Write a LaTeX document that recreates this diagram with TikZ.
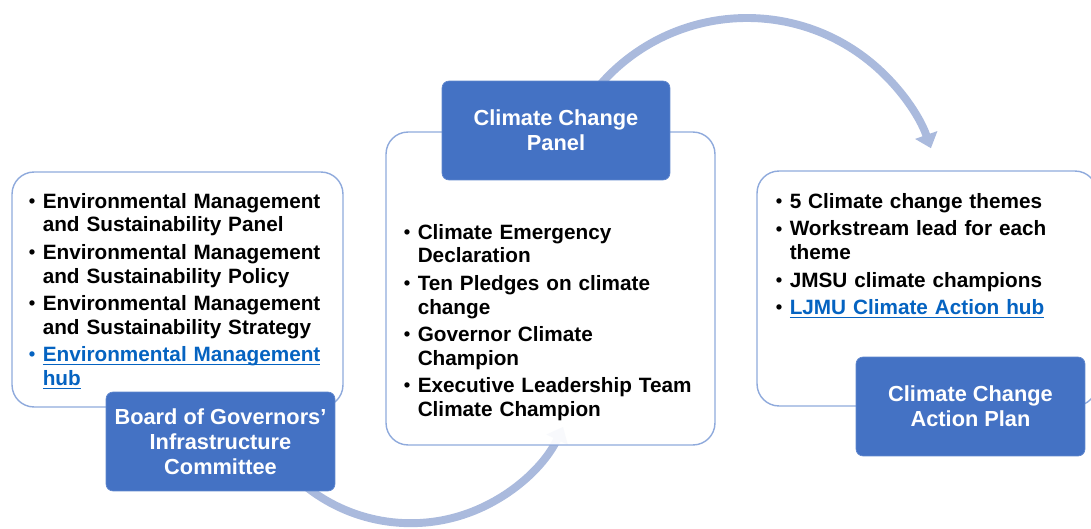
\documentclass[tikz,border=0pt]{standalone}
\usepackage{fontspec}
\setmainfont{Liberation Sans}
\usepackage{xcolor}
\usepackage{tikz}
\usetikzlibrary{arrows.meta}

\definecolor{boxblue}{HTML}{4472C4}
\definecolor{edgeblue}{HTML}{8FAADC}
\definecolor{flowblue}{HTML}{AABADD}
\definecolor{linkblue}{HTML}{0563C1}

\newsavebox\lnkbox
\newcommand{\lnk}[1]{{\color{linkblue}\sbox\lnkbox{#1}\rlap{\rule[-2pt]{\wd\lnkbox}{0.7pt}}\usebox\lnkbox}}
\newcommand{\bitem}[2][black]{\hangindent=8.2pt\hangafter=1\noindent
  \makebox[8.2pt][l]{\hspace{0.3pt}\raisebox{0.5pt}{\fontsize{10.5}{10.5}\selectfont\textcolor{#1}{\textbullet}}}#2\par}

\tikzset{
  listbox/.style={draw=edgeblue, line width=0.8pt, fill=white, fill opacity=0.92, rounded corners=0.44cm},
  headbox/.style={fill=boxblue, draw=boxblue!85!white, rounded corners=0.14cm, text=white, align=center,
    font=\fontsize{12.4}{14.3}\selectfont\bfseries},
  bullets/.style={inner sep=0pt, text width=6.2cm, align=left, font=\fontsize{11.8}{13.4}\selectfont\bfseries,
    execute at begin node=\setlength{\parskip}{2.3pt}},
  flow/.style={flowblue, line width=4.5pt, -{Triangle[width=13pt,length=8pt]}}
}

\begin{document}
\begin{tikzpicture}[x=0.02cm, y=0.02cm]
	\useasboundingbox (0,0) rectangle (1091,528);
	\clip (0,0) rectangle (1091,528);
	
	% bent arrows, behind the boxes
	\coordinate (lowc) at (410.8,173.4);
	\coordinate (topc) at (747,315);
	\draw[flow] ([shift={(-130:168.6)}]lowc) arc[start angle=-130, end angle=-25.4, radius=168.6];
	\draw[flow] ([shift={(140:195)}]topc) arc[start angle=140, end angle=19.4, radius=195];
	
	\node[listbox, minimum width=6.62cm, minimum height=4.7cm] (envbox) at (177.5,238.5) {};
	\node[listbox, minimum width=6.58cm, minimum height=6.26cm] (pledgebox) at (550.5,239.5) {};
	\node[listbox, minimum width=6.8cm, minimum height=4.7cm] (themebox) at (927,239.5) {};
	
	\node[bullets, anchor=north west] (envlist) at (28,335) {%
		\bitem{Environmental Management\newline and Sustainability Panel}
		\bitem{Environmental Management\newline and Sustainability Policy}
		\bitem{Environmental Management\newline and Sustainability Strategy}
		\bitem[linkblue]{\lnk{Environmental Management}\newline\lnk{hub}}};
	\node[bullets, anchor=north west] (pledgelist) at (403,304) {%
		\bitem{Climate Emergency\newline Declaration}
		\bitem{Ten Pledges on climate\newline change}
		\bitem{Governor Climate\newline Champion}
		\bitem{Executive Leadership Team\newline Climate Champion}};
	\node[bullets, anchor=north west] (themelist) at (775,335) {%
		\bitem{5 Climate change themes}
		\bitem{Workstream lead for each\newline theme}
		\bitem{JMSU climate champions}
		\bitem{\lnk{LJMU Climate Action hub}}};
	
	\node[headbox, minimum width=4.58cm, minimum height=1.98cm] (boardbox) at (220.5,86.5) {Board of Governors’\\Infrastructure\\Committee};
	\node[headbox, minimum width=4.56cm, minimum height=1.98cm] (panelbox) at (556,397.5) {Climate Change\\Panel};
	\node[headbox, minimum width=4.58cm, minimum height=1.98cm] (planbox) at (970.5,121.5) {Climate Change\\Action Plan};
\end{tikzpicture}
\end{document}
